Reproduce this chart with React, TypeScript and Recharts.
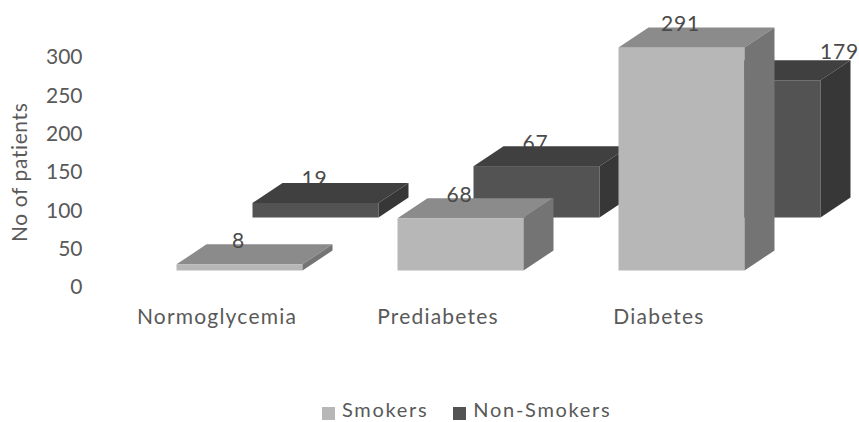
import { Bar, BarChart, Legend, XAxis, YAxis } from 'recharts';

const categories = ['Normoglycemia', 'Prediabetes', 'Diabetes'];
const smokers = [8, 68, 291];
const nonSmokers = [19, 67, 179];
const yTicks = [0, 50, 100, 150, 200, 250, 300];

const data = categories.map((name, i) => ({
  name,
  smokers: smokers[i],
  nonSmokers: nonSmokers[i],
}));

const FONT = 'Lato, sans-serif';
const TEXT = '#595959';
const DEPTH_X = 30;
const DEPTH_Y = 20;

const smokerFaces = { front: '#b7b7b7', top: '#8b8b8b', side: '#747474' };
const nonSmokerFaces = { front: '#535353', top: '#404040', side: '#373737' };

const pts = (list: number[][]) => list.map((p) => p.join(',')).join(' ');

// Extruded box, lifted off the axis so each series sits on its own floor
const makeBox = (
  faces: { front: string; top: string; side: string },
  lift: number,
  labelBehind: boolean,
) =>
  function Box(props: any) {
    const { x, width, height, value, index } = props;
    const y = props.y - lift;
    const right = x + width;
    const bottom = y + height;

    // the Diabetes non-smokers label was dragged off to the right of its box
    const moved = labelBehind && index === 2;
    const label = (
      <text
        x={x + width / 2 + (moved ? 82 : -1)}
        y={y - (moved ? 30 : 25)}
        textAnchor="middle"
        dominantBaseline="central"
        fontFamily={FONT}
        fontSize={21}
        letterSpacing={0.8}
        fill="#4a4a4a"
      >
        {value}
      </text>
    );

    return (
      <g>
        {labelBehind && label}
        <rect x={x} y={y} width={width} height={height} fill={faces.front} />
        <polygon
          points={pts([
            [x, y],
            [x + DEPTH_X, y - DEPTH_Y],
            [right + DEPTH_X, y - DEPTH_Y],
            [right, y],
          ])}
          fill={faces.top}
        />
        <polygon
          points={pts([
            [right, y],
            [right + DEPTH_X, y - DEPTH_Y],
            [right + DEPTH_X, bottom - DEPTH_Y],
            [right, bottom],
          ])}
          fill={faces.side}
        />
        {!labelBehind && label}
      </g>
    );
  };

const SmokerBox = makeBox(smokerFaces, 16.5, false);
const NonSmokerBox = makeBox(nonSmokerFaces, 69.5, true);

const CategoryTick = ({ x, y, payload }: any) => (
  <text
    x={x - 60}
    y={y}
    textAnchor="middle"
    dominantBaseline="central"
    fontFamily={FONT}
    fontSize={21}
    letterSpacing={1.2}
    fill={TEXT}
  >
    {payload.value}
  </text>
);

const legendText = { position: 'relative', top: -3 } as const;

const LegendRow = () => (
  <div
    style={{
      height: 18,
      display: 'flex',
      alignItems: 'center',
      fontFamily: FONT,
      fontSize: 20,
      lineHeight: '18px',
      letterSpacing: 1.7,
      color: TEXT,
      whiteSpace: 'nowrap',
    }}
  >
    <span style={{ width: 13, height: 13, background: smokerFaces.front, marginRight: 7, marginTop: 2 }} />
    <span style={{ ...legendText, marginRight: 25 }}>Smokers</span>
    <span style={{ width: 13, height: 13, background: nonSmokerFaces.front, marginRight: 7, marginTop: 2 }} />
    <span style={legendText}>Non-Smokers</span>
  </div>
);

export default function App() {
  return (
    <div style={{ position: 'absolute', left: 0, top: 0, width: 859, height: 422, overflow: 'hidden', background: '#fff' }}>
      <BarChart
        width={859}
        height={422}
        data={data}
        barSize={126}
        barGap={-202}
        margin={{ top: 57, right: 29.5, bottom: 87, left: 0 }}
      >
        <XAxis
          dataKey="name"
          axisLine={false}
          tickLine={false}
          tickMargin={22}
          height={30}
          tick={CategoryTick}
        />
        <YAxis
          width={166.5}
          domain={[0, 300]}
          ticks={yTicks}
          axisLine={false}
          tickLine={false}
          tickMargin={78}
          tick={{ fontFamily: FONT, fontSize: 21, fill: TEXT }}
          label={{
            value: 'No of patients',
            angle: -90,
            position: 'insideLeft',
            offset: 20,
            dy: 70,
            style: { fontFamily: FONT, fontSize: 21, letterSpacing: 0.6, fill: TEXT },
          }}
        />
        <Legend
          content={LegendRow}
          wrapperStyle={{ left: 322, top: 403, bottom: 'auto', width: 320, height: 18 }}
        />
        <Bar dataKey="nonSmokers" fill={nonSmokerFaces.front} shape={NonSmokerBox} isAnimationActive={false} />
        <Bar dataKey="smokers" fill={smokerFaces.front} shape={SmokerBox} isAnimationActive={false} />
      </BarChart>
    </div>
  );
}
